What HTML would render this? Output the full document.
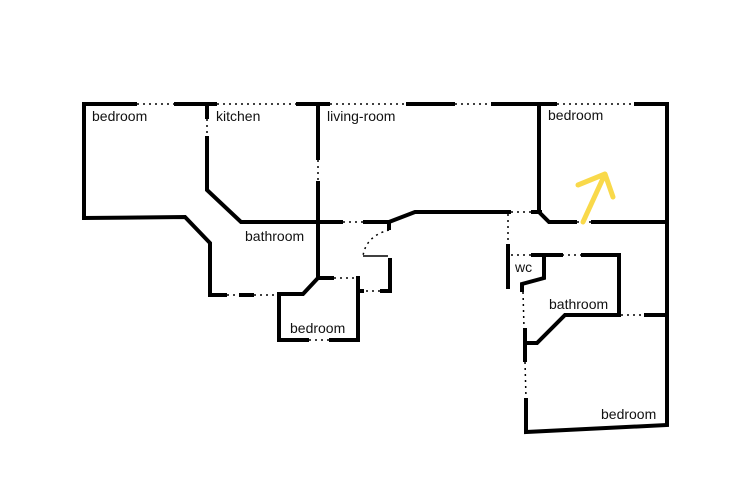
<!DOCTYPE html>
<html><head><style>
body{margin:0;background:#fff;}
svg{display:block}
text{font-family:"Liberation Sans",sans-serif;font-size:14px;fill:#111}
.w{stroke:#000;stroke-width:4;fill:none;stroke-linecap:square;stroke-linejoin:miter}
.d{stroke:#000;stroke-width:1.5;fill:none;stroke-dasharray:2 4}
</style></head><body>
<svg width="750" height="500" viewBox="0 0 750 500">
<path class="w" d="M84,218 L84,104 L135,104"/>
<path class="d" d="M137,104 L175,104"/>
<path class="w" d="M176,104 L215,104"/>
<path class="d" d="M217,104 L296,104"/>
<path class="w" d="M298,104 L328,104"/>
<path class="d" d="M330,104 L406,104"/>
<path class="w" d="M408,104 L453,104"/>
<path class="d" d="M455,104 L491,104"/>
<path class="w" d="M493,104 L555,104"/>
<path class="d" d="M557,104 L634,104"/>
<path class="w" d="M636,104 L667,104 L667,425 L526,432 L526,400"/>
<path class="w" d="M84,218 L185,217 L210,243 L210,295 L225,295"/>
<path class="d" d="M227,295 L239,295"/>
<path class="w" d="M241,295 L252,295"/>
<path class="d" d="M254,295 L277,295"/>
<path class="w" d="M207,104 L207,117"/>
<path class="d" d="M207,119 L207,136"/>
<path class="w" d="M207,138 L207,190 L241,222 L341,222"/>
<path class="d" d="M343,222 L363,222"/>
<path class="w" d="M365,222 L389,222 L415,212 L509,212"/>
<path class="w" d="M389,222 L389,228"/>
<path class="w" d="M318,104 L318,158"/>
<path class="d" d="M318,160 L318,181"/>
<path class="w" d="M318,183 L318,278 L332,278"/>
<path class="d" d="M334,278 L356,278"/>
<path class="w" d="M358,278 L358,340 L331,340"/>
<path class="d" d="M329,340 L309,340"/>
<path class="w" d="M307,340 L279,340 L279,294 L303,294 L318,278"/>
<path class="d" d="M389,230 Q366,236 363,256"/>
<path stroke="#000" stroke-width="1.5" d="M363,256 L388,256"/>
<path class="w" d="M390,260 L390,291 L382,291"/>
<path class="d" d="M380,291 L363,291"/>
<path class="w" d="M358,291 L362,291"/>
<path class="d" d="M511,212 L531,212"/>
<path class="w" d="M533,212 L540,212"/>
<path class="w" d="M539,104 L539,212 L549,222 L575,222"/>
<path class="d" d="M577,222 L591,222"/>
<path class="w" d="M593,222 L667,222"/>
<path class="d" d="M508,214 L508,244"/>
<path class="w" d="M508,246 L508,287"/>
<path class="d" d="M511,255 L532,255"/>
<path class="w" d="M533,255 L561,255"/>
<path class="w" d="M544,256 L544,278 L522,284 L522,290"/>
<path class="d" d="M562,255 L581,255"/>
<path class="w" d="M583,255 L619,255 L619,315 L565,315 L537,343 L525,343"/>
<path class="d" d="M621,315 L644,315"/>
<path class="w" d="M646,315 L667,315"/>
<path class="d" d="M523,292 L524,328"/>
<path class="w" d="M525,330 L525,360"/>
<path class="d" d="M525,362 L526,398"/>
<path d="M583,222 L605,174 M578,185 L605,174 L613,197" stroke="#f9d94a" stroke-width="5" fill="none" stroke-linecap="round" stroke-linejoin="round"/>
<text x="92" y="121">bedroom</text>
<text x="216" y="121">kitchen</text>
<text x="327" y="121">living-room</text>
<text x="548" y="120">bedroom</text>
<text x="245" y="241">bathroom</text>
<text x="290" y="333">bedroom</text>
<text x="515" y="272">wc</text>
<text x="549" y="309">bathroom</text>
<text x="601" y="419">bedroom</text>
</svg>
</body></html>
